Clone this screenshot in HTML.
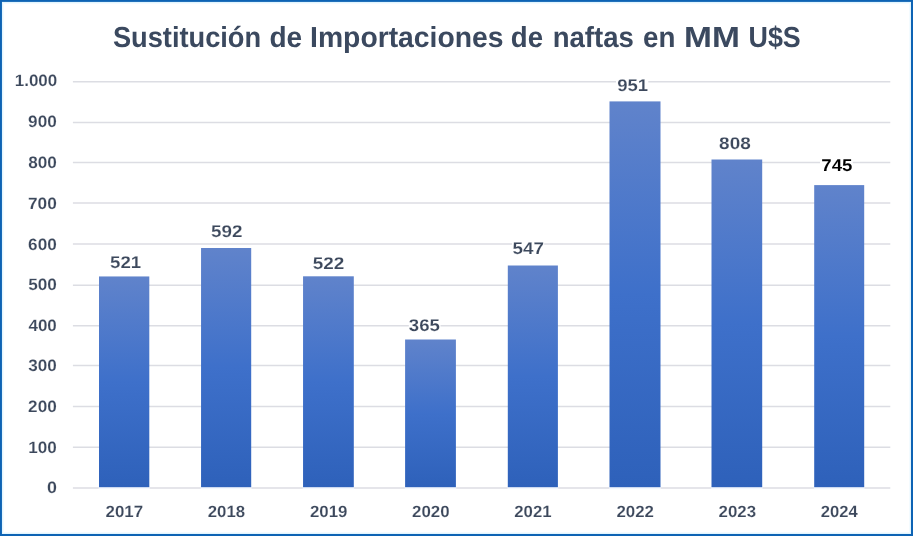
<!DOCTYPE html>
<html lang="es"><head><meta charset="utf-8"><title>Sustitución de Importaciones de naftas en MM U$S</title>
<style>
html,body{margin:0;padding:0;background:#fff;}
body{width:913px;height:536px;overflow:hidden;}
svg{display:block;}
text{text-rendering:geometricPrecision;stroke:#fff;stroke-width:0.9;paint-order:fill stroke;font-family:"Liberation Sans",sans-serif;font-weight:bold;fill:#3c485c;}
</style></head><body>
<svg width="913" height="536" viewBox="0 0 913 536">
<defs><linearGradient id="g" x1="0" y1="0" x2="0" y2="1"><stop offset="0" stop-color="#6083cb"/><stop offset="0.5" stop-color="#3e70ca"/><stop offset="1" stop-color="#2e61ba"/></linearGradient></defs>
<rect x="0" y="0" width="913" height="536" fill="#0d63b4"/>
<rect x="1.95" y="1.9" width="909.05" height="532.1" fill="#e2f5fe"/>
<rect x="3" y="3" width="907" height="530" fill="#f3fbff"/>
<rect x="4" y="4" width="905" height="528" fill="#ffffff"/>

<line x1="72.9" y1="447.25" x2="890.3" y2="447.25" stroke="#dcdde3" stroke-width="1.5"/>
<line x1="72.9" y1="406.50" x2="890.3" y2="406.50" stroke="#dcdde3" stroke-width="1.5"/>
<line x1="72.9" y1="365.60" x2="890.3" y2="365.60" stroke="#dcdde3" stroke-width="1.5"/>
<line x1="72.9" y1="325.65" x2="890.3" y2="325.65" stroke="#dcdde3" stroke-width="1.5"/>
<line x1="72.9" y1="285.20" x2="890.3" y2="285.20" stroke="#dcdde3" stroke-width="1.5"/>
<line x1="72.9" y1="244.10" x2="890.3" y2="244.10" stroke="#dcdde3" stroke-width="1.5"/>
<line x1="72.9" y1="203.10" x2="890.3" y2="203.10" stroke="#dcdde3" stroke-width="1.5"/>
<line x1="72.9" y1="162.45" x2="890.3" y2="162.45" stroke="#dcdde3" stroke-width="1.5"/>
<line x1="72.9" y1="122.40" x2="890.3" y2="122.40" stroke="#dcdde3" stroke-width="1.5"/>
<line x1="72.9" y1="81.70" x2="890.3" y2="81.70" stroke="#dcdde3" stroke-width="1.5"/>
<rect x="109.4" y="253.0" width="32.0" height="18.3" fill="#fff"/>
<rect x="210.3" y="221.9" width="32.1" height="18.5" fill="#fff"/>
<rect x="312.1" y="253.8" width="32.3" height="18.6" fill="#fff"/>
<rect x="408.8" y="316.1" width="31.7" height="18.4" fill="#fff"/>
<rect x="512.1" y="238.0" width="32.1" height="18.8" fill="#fff"/>
<rect x="616.0" y="76.1" width="32.3" height="18.3" fill="#fff"/>
<rect x="718.5" y="134.1" width="32.5" height="18.6" fill="#fff"/>
<rect x="820.0" y="155.4" width="32.7" height="18.3" fill="#fff"/>
<line x1="72.9" y1="488.00" x2="890.3" y2="488.00" stroke="#dcdde3" stroke-width="1.5"/>
<rect x="98.70" y="486" width="50.90" height="3.2" fill="#f3f7fe"/>
<rect x="99.00" y="276.45" width="50.30" height="210.75" fill="url(#g)"/>
<rect x="200.75" y="486" width="50.75" height="3.2" fill="#f3f7fe"/>
<rect x="201.05" y="248.00" width="50.15" height="239.20" fill="url(#g)"/>
<rect x="302.75" y="486" width="51.35" height="3.2" fill="#f3f7fe"/>
<rect x="303.05" y="276.30" width="50.75" height="210.90" fill="url(#g)"/>
<rect x="404.80" y="486" width="51.40" height="3.2" fill="#f3f7fe"/>
<rect x="405.10" y="339.50" width="50.80" height="147.70" fill="url(#g)"/>
<rect x="507.50" y="486" width="50.70" height="3.2" fill="#f3f7fe"/>
<rect x="507.80" y="265.50" width="50.10" height="221.70" fill="url(#g)"/>
<rect x="609.20" y="486" width="51.60" height="3.2" fill="#f3f7fe"/>
<rect x="609.50" y="101.40" width="51.00" height="385.80" fill="url(#g)"/>
<rect x="711.20" y="486" width="51.30" height="3.2" fill="#f3f7fe"/>
<rect x="711.50" y="159.50" width="50.70" height="327.70" fill="url(#g)"/>
<rect x="813.90" y="486" width="50.60" height="3.2" fill="#f3f7fe"/>
<rect x="814.20" y="185.10" width="50.00" height="302.10" fill="url(#g)"/>
<text transform="translate(46.89 493.10) scale(0.17873 0.16500)" font-size="100">0</text>
<text transform="translate(28.33 453.10) scale(0.17067 0.16500)" font-size="100">100</text>
<text transform="translate(28.10 411.90) scale(0.17203 0.16500)" font-size="100">200</text>
<text transform="translate(28.31 371.30) scale(0.17077 0.16500)" font-size="100">300</text>
<text transform="translate(28.44 330.60) scale(0.16994 0.16500)" font-size="100">400</text>
<text transform="translate(28.17 289.50) scale(0.17161 0.16500)" font-size="100">500</text>
<text transform="translate(28.07 249.90) scale(0.17224 0.16500)" font-size="100">600</text>
<text transform="translate(27.96 208.90) scale(0.17293 0.16500)" font-size="100">700</text>
<text transform="translate(28.16 167.90) scale(0.17171 0.16500)" font-size="100">800</text>
<text transform="translate(28.10 127.30) scale(0.17203 0.16500)" font-size="100">900</text>
<text transform="translate(14.73 86.30) scale(0.16969 0.16500)" font-size="100">1.000</text>
<text transform="translate(105.55 517.30) scale(0.16915 0.16300)" font-size="100">2017</text>
<text transform="translate(207.73 517.30) scale(0.16812 0.16300)" font-size="100">2018</text>
<text transform="translate(309.90 517.30) scale(0.16862 0.16300)" font-size="100">2019</text>
<text transform="translate(412.08 517.30) scale(0.16892 0.16300)" font-size="100">2020</text>
<text transform="translate(514.26 517.30) scale(0.16789 0.16300)" font-size="100">2021</text>
<text transform="translate(616.43 517.30) scale(0.16884 0.16300)" font-size="100">2022</text>
<text transform="translate(718.60 517.30) scale(0.16854 0.16300)" font-size="100">2023</text>
<text transform="translate(820.79 517.30) scale(0.16617 0.16300)" font-size="100">2024</text>
<text transform="translate(110.03 268.10) scale(0.18666 0.17000)" font-size="100">521</text>
<text transform="translate(210.92 237.20) scale(0.18840 0.17000)" font-size="100">592</text>
<text transform="translate(312.72 269.20) scale(0.18965 0.17000)" font-size="100">522</text>
<text transform="translate(408.77 331.30) scale(0.18669 0.17000)" font-size="100">365</text>
<text transform="translate(512.52 253.60) scale(0.18886 0.17000)" font-size="100">547</text>
<text transform="translate(617.16 91.20) scale(0.18556 0.17000)" font-size="100">951</text>
<text transform="translate(719.10 149.45) scale(0.18992 0.17000)" font-size="100">808</text>
<text transform="translate(821.30 170.50) scale(0.18621 0.17000)" font-size="100" style="fill:#000;stroke-width:0.3">745</text>
<text transform="translate(112.92 47.25) scale(0.27216 0.29000)" font-size="100" style="fill:#3b495f;stroke:none">Sustitución</text>
<text transform="translate(269.45 47.25) scale(0.28027 0.29000)" font-size="100" style="fill:#3b495f;stroke:none">de</text>
<text transform="translate(310.11 47.25) scale(0.28289 0.29000)" font-size="100" style="fill:#3b495f;stroke:none">Importaciones</text>
<text transform="translate(510.87 47.25) scale(0.27661 0.29000)" font-size="100" style="fill:#3b495f;stroke:none">de</text>
<text transform="translate(552.68 47.25) scale(0.27551 0.29000)" font-size="100" style="fill:#3b495f;stroke:none">naftas</text>
<text transform="translate(643.12 47.25) scale(0.27769 0.29000)" font-size="100" style="fill:#3b495f;stroke:none">en</text>
<text transform="translate(684.06 47.25) scale(0.33481 0.29000)" font-size="100" style="fill:#3b495f;stroke:none">MM</text>
<text transform="translate(748.49 47.25) scale(0.26866 0.29000)" font-size="100" style="fill:#3b495f;stroke:none">U$S</text>
</svg></body></html>
